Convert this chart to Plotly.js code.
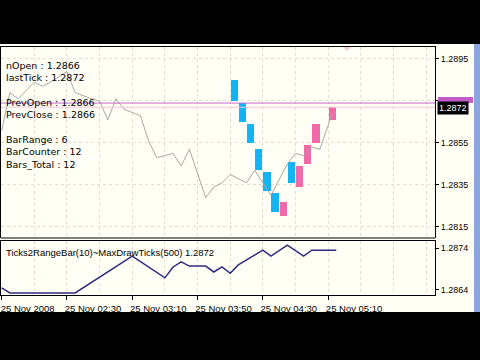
<!DOCTYPE html>
<html><head><meta charset="utf-8">
<script src="https://cdn.plot.ly/plotly-3.0.1.min.js"></script>
<style>html,body{margin:0;padding:0;background:#000;overflow:hidden}#chart{width:480px;height:360px}</style>
</head><body><div id="chart"></div>
<script>
// ---- data (bar index on x, price on y) ----
const lineX = [0, 1, 2, 3, 4, 5, 6, 8, 9, 11, 12, 13, 14, 15, 17, 18, 19, 21, 22, 23, 25, 26, 27, 28, 29, 30, 31, 32, 33, 35, 36, 37, 38, 39, 40.5];
const lineY = [1.2861, 1.2879, 1.2876, 1.2880, 1.2884, 1.2882, 1.2884, 1.2889, 1.2879, 1.2876, 1.2875, 1.2866, 1.2876, 1.2871, 1.2868, 1.2856, 1.2848, 1.2850, 1.2844, 1.2852, 1.2829, 1.2834, 1.2836, 1.2840, 1.2838, 1.2836, 1.2842, 1.2836, 1.2830, 1.2845, 1.2850, 1.2849, 1.2853, 1.2852, 1.2869];

const barX = [28.5, 29.5, 30.5, 31.5, 32.5, 33.5, 34.5, 35.5, 36.5, 37.5, 38.5, 40.5];
const barOpen  = [1.2885, 1.2874, 1.2864, 1.2852, 1.2841, 1.2831, 1.2820, 1.2846, 1.2834, 1.2845, 1.2855, 1.2866];
const barClose = [1.2875, 1.2865, 1.2855, 1.2842, 1.2832, 1.2822, 1.2827, 1.2836, 1.2844, 1.2854, 1.2864, 1.2872];

const indX = [0, 1, 9, 16, 20, 21, 22, 23, 25, 26, 27, 28, 29, 32, 33, 35, 37, 38, 41];
const indY = [1.28645, 1.28633, 1.28633, 1.28721, 1.28669, 1.28695, 1.28707, 1.28697, 1.28697, 1.28683, 1.28695, 1.28680, 1.28700, 1.28735, 1.28721, 1.28747, 1.28721, 1.28735, 1.28735];

const timeTickPos = [0, 8, 16, 24, 32, 40];
const timeTickLabels = ['25 Nov 2008', '25 Nov 02:30', '25 Nov 03:10', '25 Nov 03:50', '25 Nov 04:30', '25 Nov 05:10'];
const gridPos = [0, 4, 8, 12, 16, 20, 24, 28, 32, 36, 40, 44, 48, 52];
const upperTicks = [1.2815, 1.2835, 1.2855, 1.2875, 1.2895];
const upperTickLabels = ['1.2815', '1.2835', '1.2855', '', '1.2895'];
const lowerTicks = [1.2864, 1.2874];
const lowerTickLabels = ['1.2864', '1.2874'];
const infoLines = ['nOpen : 1.2866', 'lastTick : 1.2872', 'PrevOpen : 1.2866', 'PrevClose : 1.2866', 'BarRange : 6', 'BarCounter : 12', 'Bars_Total : 12'];
const infoRows = [0, 1, 3, 4, 6, 7, 8];
const lastPrice = 1.2872;
const lastPriceLabel = '1.2872';
const prevLevel = 1.2874;
const subTitle = 'Ticks2RangeBar(10)~MaxDrawTicks(500) 1.2872';

// ---- geometry helpers (layout only) ----
const W = 480, H = 360, mL = 1, mR = 45, mT = 47, mB = 65;
const pw = W - mL - mR, ph = H - mT - mB;
const px2x = p => (p - mL) / pw;
const px2y = p => (H - mB - p) / ph;

const FONT = 'Liberation Sans, Arial, sans-serif';
const INFOFONT = 'DejaVu Sans, Verdana, sans-serif';
const cream = '#fffff6';
const gridCol = '#e8dccf';

const traces = [
  {type: 'scatter', mode: 'lines', x: lineX, y: lineY, xaxis: 'x', yaxis: 'y',
   line: {color: '#a8a8a8', width: 1}, hoverinfo: 'skip'},
  {type: 'bar', x: barX,
   base: barOpen.map((o, i) => Math.min(o, barClose[i])),
   y: barOpen.map((o, i) => Math.abs(barClose[i] - o)),
   xaxis: 'x', yaxis: 'y', width: 0.9,
   marker: {color: barOpen.map((o, i) => barClose[i] > o ? '#f06aaa' : '#14b4f4'), line: {width: 0}},
   hoverinfo: 'skip'},
  {type: 'scatter', mode: 'lines', x: indX, y: indY, xaxis: 'x2', yaxis: 'y2',
   line: {color: '#2c2c80', width: 1.5}, hoverinfo: 'skip'}
];

const upperBottom = px2y(237), lowerTop = px2y(241);
const xr = [(mL - 1.7) / 8.16, (mL + pw - 1.7) / 8.16];

const annotations = infoLines.map((t, i) => ({
  xref: 'paper', yref: 'paper', x: px2x(4), y: px2y(65 + infoRows[i] * 12.4),
  xanchor: 'left', yanchor: 'middle', text: t, showarrow: false,
  font: {family: INFOFONT, size: 9.5, color: '#000'}
}));
annotations.push({xref: 'paper', yref: 'paper', x: px2x(4), y: px2y(252), xanchor: 'left', yanchor: 'middle',
  text: subTitle, showarrow: false, font: {family: FONT, size: 9.5, color: '#000'}});
annotations.push({xref: 'paper', yref: 'y', x: px2x(437), y: lastPrice, xanchor: 'left', yanchor: 'middle',
  text: lastPriceLabel, showarrow: false, bgcolor: '#000', borderpad: 1, yshift: -1,
  font: {family: FONT, size: 9, color: '#fff'}});

const shapes = [
  {type: 'rect', xref: 'paper', yref: 'paper', x0: px2x(0), x1: px2x(474), y0: px2y(312), y1: px2y(44),
   fillcolor: cream, line: {width: 0}, layer: 'below'},
  {type: 'rect', xref: 'paper', yref: 'paper', x0: px2x(474), x1: px2x(481), y0: px2y(312), y1: px2y(44),
   fillcolor: '#8aa6dc', line: {width: 0}, layer: 'below'},
  {type: 'rect', xref: 'paper', yref: 'paper', x0: px2x(438), x1: px2x(473), y0: px2y(103), y1: px2y(97),
   fillcolor: '#c25ec8', line: {width: 0}},
  {type: 'line', xref: 'paper', yref: 'y', x0: 0, x1: 1, y0: lastPrice, y1: lastPrice,
   line: {color: '#f6c6d6', width: 1}},
  {type: 'line', xref: 'paper', yref: 'y', x0: 0, x1: 1, y0: prevLevel, y1: prevLevel,
   line: {color: '#c46ad0', width: 1}},
  {type: 'line', xref: 'paper', yref: 'paper', x0: 0, x1: 1, y0: px2y(238), y1: px2y(238),
   line: {color: '#808080', width: 2}},
  {type: 'path', xref: 'paper', yref: 'paper',
   path: `M ${px2x(343)} ${px2y(47)} L ${px2x(351)} ${px2y(47)} L ${px2x(347)} ${px2y(51)} Z`,
   fillcolor: '#f4ccd8', line: {width: 0}}
];

const axisCommon = {showline: true, mirror: true, linecolor: '#000', linewidth: 1, zeroline: false, fixedrange: true};

const layout = {
  width: W, height: H, margin: {l: mL, r: mR, t: mT, b: mB, pad: 0},
  paper_bgcolor: '#000', plot_bgcolor: cream, showlegend: false, bargap: 0,
  xaxis: Object.assign({}, axisCommon, {domain: [0, 1], anchor: 'y', range: xr, tickmode: 'array',
    tickvals: timeTickPos, ticktext: timeTickLabels, showticklabels: false, ticks: '',
    showgrid: true, gridcolor: gridCol, griddash: '3px,3px',
    minor: {tickmode: 'array', tickvals: gridPos, showgrid: true, gridcolor: gridCol, griddash: '3px,3px', ticks: ''}}),
  yaxis: Object.assign({}, axisCommon, {domain: [upperBottom, 1], anchor: 'x', side: 'right', range: [1.28102, 1.29007],
    tickmode: 'array', tickvals: upperTicks, ticktext: upperTickLabels, ticks: 'outside', ticklen: 3, tickcolor: '#000',
    showgrid: true, gridcolor: gridCol, griddash: '3px,3px',
    tickfont: {family: FONT, size: 9, color: '#000'}}),
  xaxis2: Object.assign({}, axisCommon, {domain: [0, 1], anchor: 'y2', range: xr, tickmode: 'array',
    tickvals: timeTickPos, ticktext: timeTickLabels, ticks: 'outside', ticklen: 4, tickcolor: '#000',
    ticklabelshift: 26, ticklabeloverflow: 'allow', ticklabelstandoff: 1,
    showgrid: true, gridcolor: gridCol, griddash: '3px,3px',
    tickfont: {family: FONT, size: 9.5, color: '#000'},
    minor: {tickmode: 'array', tickvals: gridPos, showgrid: true, gridcolor: gridCol, griddash: '3px,3px', ticks: ''}}),
  yaxis2: Object.assign({}, axisCommon, {domain: [0, lowerTop], anchor: 'x2', side: 'right', range: [1.28628, 1.28757],
    tickmode: 'array', tickvals: lowerTicks, ticktext: lowerTickLabels, ticks: 'outside', ticklen: 3, tickcolor: '#000',
    showgrid: false, tickfont: {family: FONT, size: 9, color: '#000'}}),
  annotations: annotations, shapes: shapes
};

Plotly.newPlot('chart', traces, layout, {staticPlot: true, displayModeBar: false});
</script></body></html>
